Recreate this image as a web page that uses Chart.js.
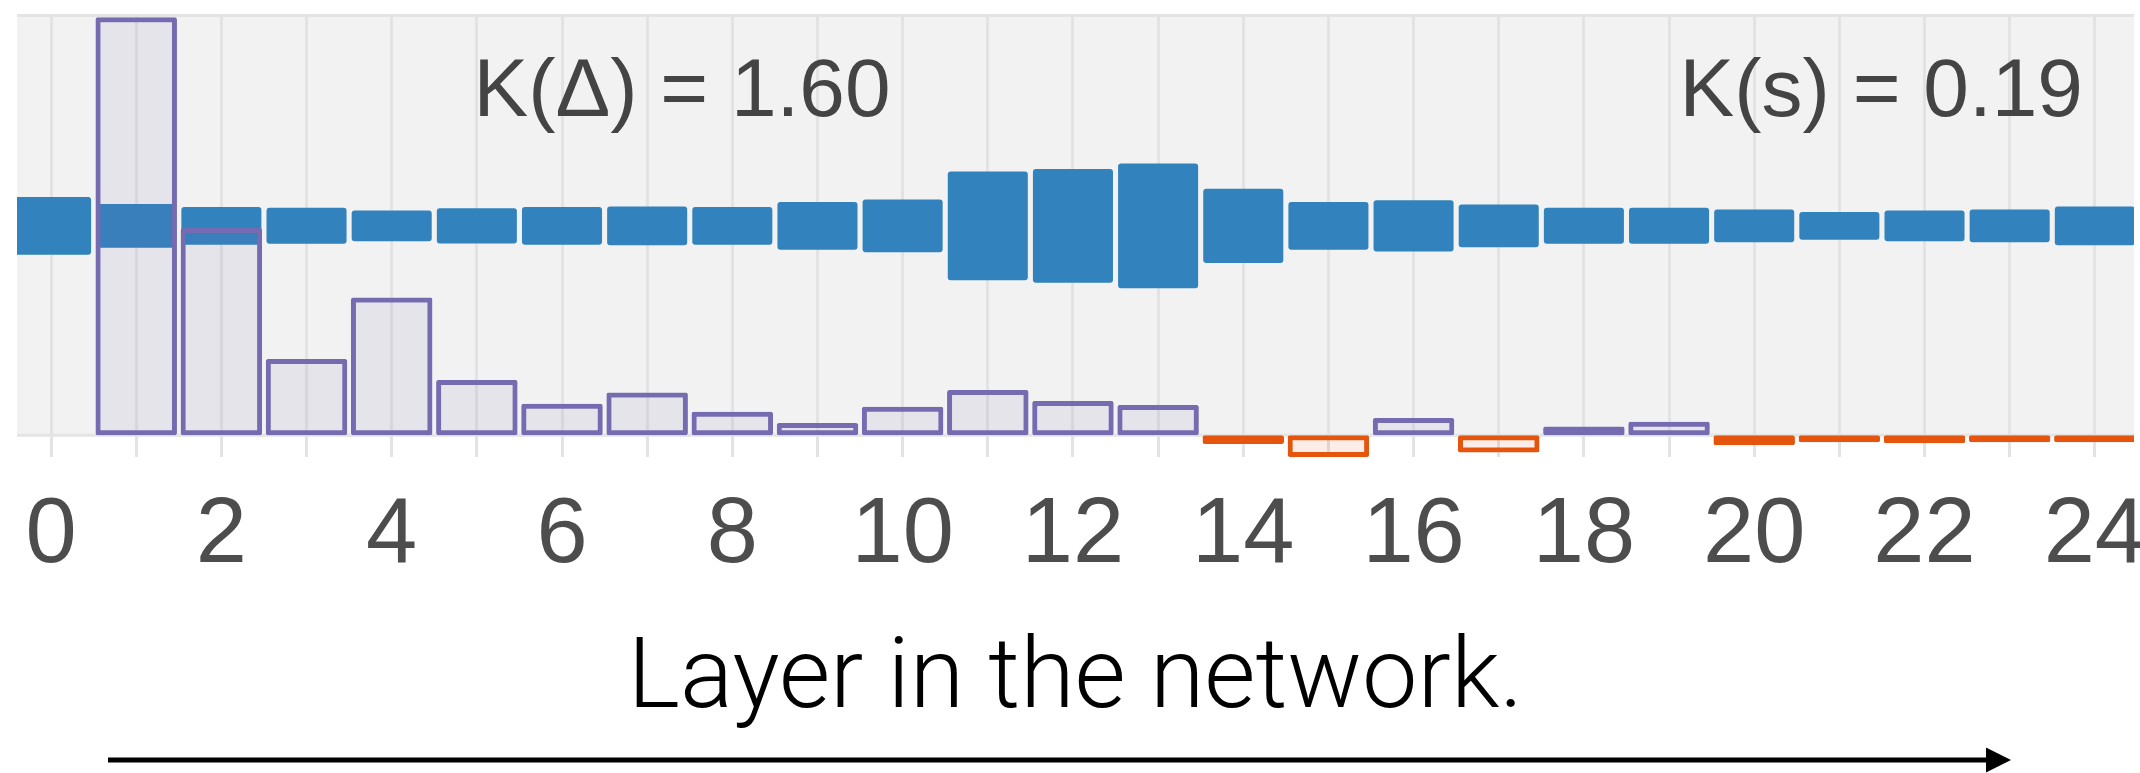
<!DOCTYPE html>
<html>
<head>
<meta charset="utf-8">
<script src="https://cdn.jsdelivr.net/npm/chart.js@4.4.1/dist/chart.umd.min.js"></script>
<style>
    html, body { margin: 0; padding: 0; background: #fff; }
    #wrap { width: 2140px; height: 773px; position: relative; }
</style>
</head>
<body>
<div id="wrap"><canvas id="chart"></canvas></div>
<script>
// layers of the network (x positions)
const layers = [0, 1, 2, 3, 4, 5, 6, 7, 8, 9, 10, 11, 12, 13, 14, 15, 16, 17, 18, 19, 20, 21, 22, 23, 24];
const tickLabels = [0, 2, 4, 6, 8, 10, 12, 14, 16, 18, 20, 22, 24];

// blue band: centre and half height per layer
const bandCentre = 0.5;
const bandHalf = [0.069, 0.052, 0.045, 0.043, 0.037, 0.042, 0.045, 0.046, 0.045, 0.057,
                  0.063, 0.130, 0.136, 0.149, 0.0885, 0.057, 0.061, 0.051, 0.043, 0.043,
                  0.039, 0.033, 0.037, 0.039, 0.046];

// lower series, purple when positive, orange when negative
const shift = [null, 0.998, 0.495, 0.182, 0.329, 0.132, 0.075, 0.102, 0.056, 0.029,
               0.068, 0.108, 0.082, 0.072, -0.021, -0.052, 0.041, -0.041, 0.021, 0.032,
               -0.024, -0.017, -0.019, -0.017, -0.017];

const notes = ["K(Δ) = 1.60", "K(s) = 0.19"];
const axisTitle = "Layer in the network.";

const BLUE = "#3182bd";
const PURPLE = "#756bb1";
const ORANGE = "#e6550d";
const FONT = '"Liberation Sans", Arial, Helvetica, sans-serif';
const LIGHT = 'Roboto, "Liberation Sans", Arial, sans-serif';

Chart.defaults.font.family = FONT;

// grey plot background, from the top down to the zero line
const backdrop = {
    id: "backdrop",
    beforeDraw(chart) {
        const {ctx, chartArea: a, scales: {y}} = chart;
        const zero = y.getPixelForValue(0);
        ctx.save();
        ctx.fillStyle = "#f2f2f2";
        ctx.fillRect(a.left, a.top, a.right - a.left, zero - a.top);
        ctx.strokeStyle = "#e4e4e4";
        ctx.lineWidth = 3;
        ctx.beginPath();
        ctx.moveTo(a.left, a.top + 1.5);
        ctx.lineTo(a.right, a.top + 1.5);
        ctx.moveTo(a.left, zero);
        ctx.lineTo(a.right, zero);
        ctx.stroke();
        ctx.restore();
    }
};

// the two K(..) labels and the arrow under the axis title
const extras = {
    id: "extras",
    afterDraw(chart) {
        const {ctx, scales: {x, y}} = chart;
        ctx.save();
        ctx.font = "82px " + FONT;
        ctx.fillStyle = "#444";
        ctx.textBaseline = "alphabetic";
        const base = y.getPixelForValue(0.762);
        ctx.textAlign = "left";
        ctx.fillText(notes[0], x.getPixelForValue(4.96), base);
        ctx.textAlign = "right";
        ctx.fillText(notes[1], x.getPixelForValue(23.86), base);

        const ay = 760, ax0 = 108, ax1 = 2011;
        ctx.strokeStyle = "#000";
        ctx.fillStyle = "#000";
        ctx.lineWidth = 5;
        ctx.beginPath();
        ctx.moveTo(ax0, ay);
        ctx.lineTo(ax1 - 20, ay);
        ctx.stroke();
        ctx.beginPath();
        ctx.moveTo(ax1, ay);
        ctx.lineTo(ax1 - 25, ay - 12.5);
        ctx.lineTo(ax1 - 25, ay + 12.5);
        ctx.closePath();
        ctx.fill();
        ctx.restore();
    }
};

const isNeg = c => c.raw && c.raw.y < 0;

new Chart(document.getElementById("chart"), {
    type: "bar",
    data: {
        datasets: [{
            label: "shift",
            data: layers.map((l, i) => ({x: l, y: shift[i]})),
            backgroundColor: c => isNeg(c) ? "rgba(230,85,13,0.1)" : "rgba(117,107,177,0.1)",
            borderColor: c => isNeg(c) ? ORANGE : PURPLE,
            borderWidth: 5,
            borderSkipped: false,
            borderRadius: 2,
            inflateAmount: 0,
            barPercentage: 0.957,
            categoryPercentage: 1,
            grouped: false,
            clip: 0,
        }, {
            label: "band",
            data: layers.map((l, i) => ({x: l, y: [bandCentre - bandHalf[i], bandCentre + bandHalf[i]]})),
            backgroundColor: BLUE,
            borderWidth: 0,
            borderRadius: 3,
            borderSkipped: false,
            inflateAmount: 0,
            barPercentage: 0.94,
            categoryPercentage: 1,
            grouped: false,
            clip: 0,
        }]
    },
    options: {
        responsive: true,
        maintainAspectRatio: false,
        devicePixelRatio: 1,
        animation: false,
        layout: {
            padding: {top: 14, left: 17, right: 6, bottom: 31.4}
        },
        scales: {
            x: {
                type: "linear",
                offset: false,
                min: -0.40,
                max: 24.46,
                afterBuildTicks: s => { s.ticks = layers.map(v => ({value: v})); },
                afterFit: s => { s.paddingLeft = 0; s.paddingRight = 0; },
                grid: {color: "#e3e3e3", lineWidth: 3, drawTicks: false, offset: false},
                border: {display: false},
                ticks: {
                    autoSkip: false,
                    maxRotation: 0,
                    minRotation: 0,
                    padding: 24.2,
                    color: "#4d4d4d",
                    font: {size: 92},
                    callback: v => tickLabels.includes(v) ? String(v) : ""
                },
                title: {
                    display: true,
                    text: axisTitle,
                    color: "#000",
                    font: {size: 99, family: LIGHT, weight: 300},
                    padding: {top: 7, bottom: 0}
                }
            },
            y: {
                display: false,
                min: -0.052,
                max: 1.006
            }
        },
        plugins: {
            legend: {display: false},
            tooltip: {enabled: false}
        }
    },
    plugins: [backdrop, extras]
});
</script>
</body>
</html>
